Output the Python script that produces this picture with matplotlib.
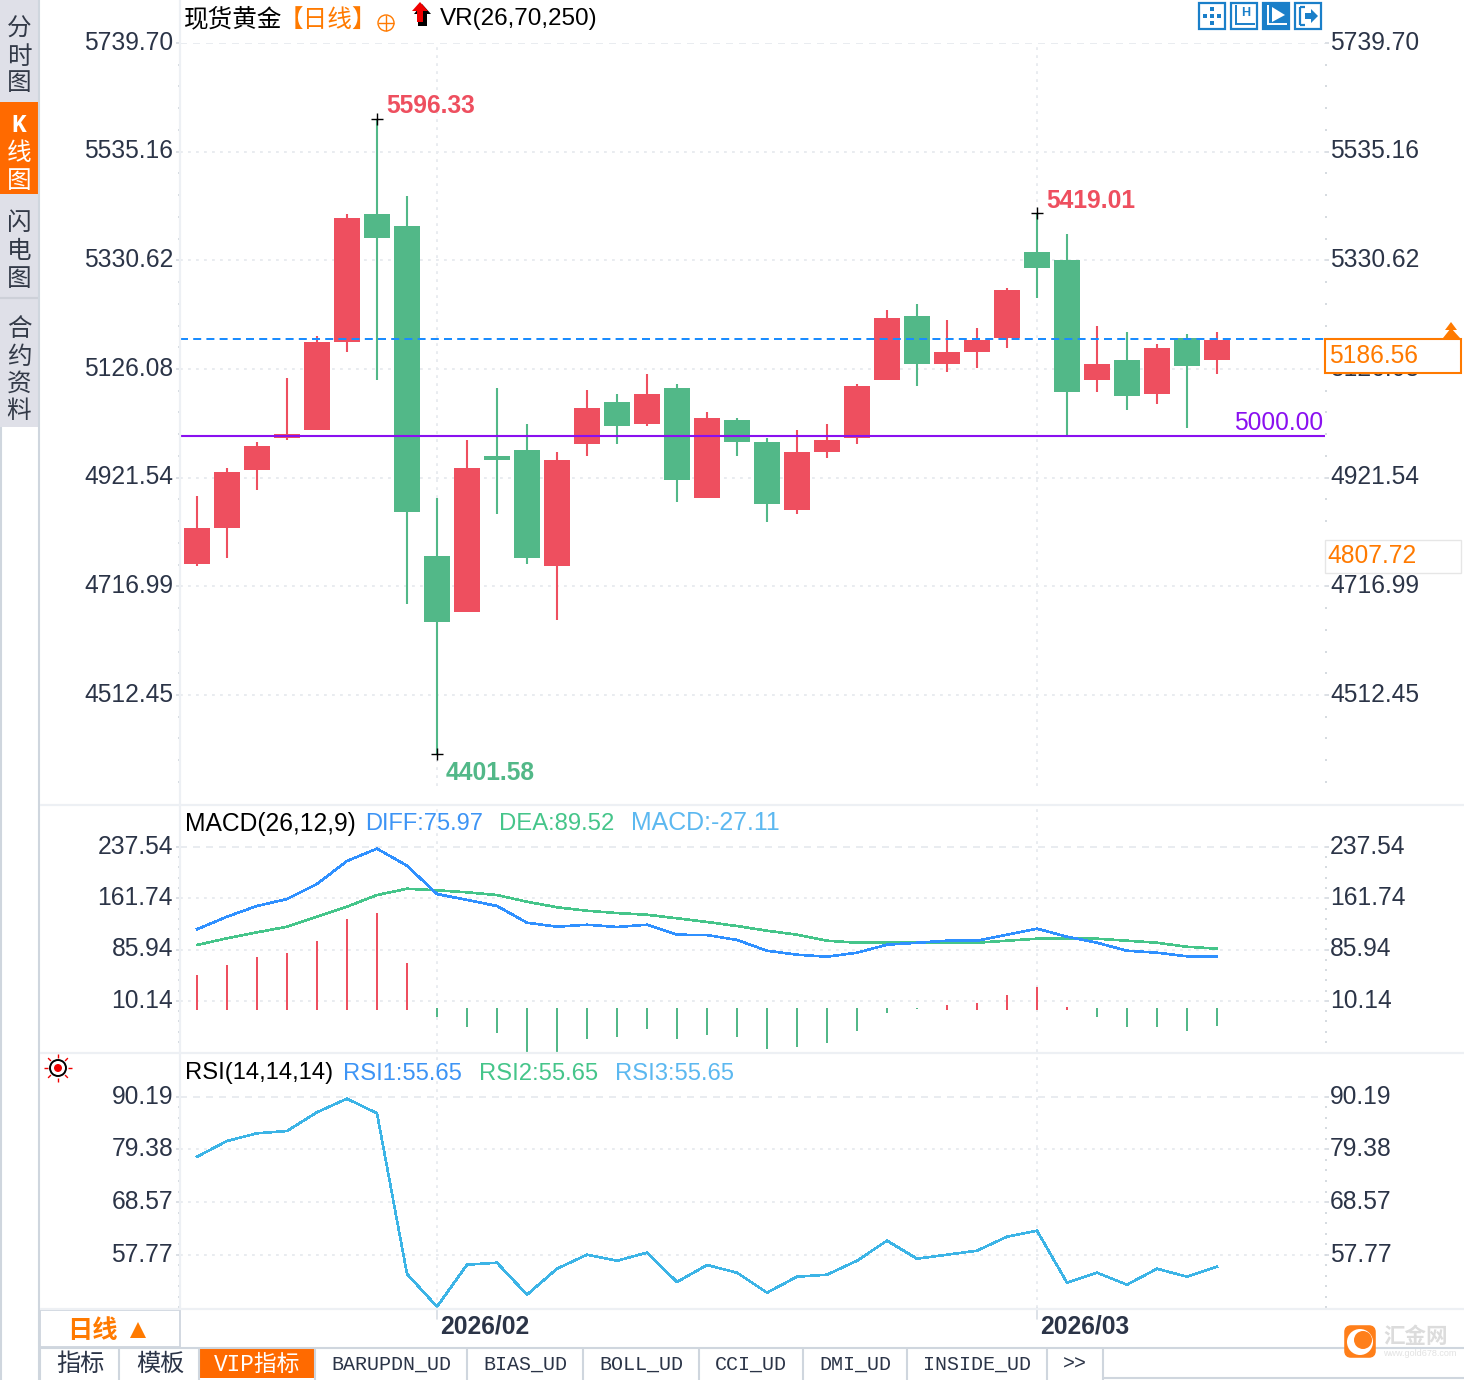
import numpy as np
import matplotlib
matplotlib.use('Agg')
import matplotlib.pyplot as plt
from matplotlib.patches import Rectangle, Polygon, Circle, FancyBboxPatch
from matplotlib.transforms import ScaledTranslation

plt.rcParams['font.family'] = ['Liberation Sans', 'Noto Sans CJK SC']

# ---- data ----
opens = [4759.0, 4826.8, 4936.0, 4996.2, 5011.3, 5176.9, 5417.9, 5395.2, 4774.1, 4668.7,
         4962.4, 4973.6, 4755.3, 4984.9, 5064.0, 5022.6, 5090.4, 4883.3, 5030.1, 4988.7,
         4860.7, 4969.9, 4996.2, 5105.4, 5225.8, 5135.5, 5158.1, 5184.5, 5346.3, 5331.2,
         5105.4, 5143.0, 5079.1, 5184.5, 5143.0]
closes = [4826.8, 4932.2, 4981.2, 5003.8, 5176.9, 5410.3, 5372.7, 4857.0, 4649.9, 4939.8,
          4954.8, 4770.3, 4954.8, 5052.7, 5018.8, 5079.1, 4917.2, 5033.9, 4988.7, 4872.0,
          4969.9, 4992.5, 5094.1, 5222.1, 5135.5, 5158.1, 5180.7, 5274.8, 5316.2, 5082.8,
          5135.5, 5075.3, 5165.6, 5131.7, 5180.7]
highs = [4887.1, 4939.8, 4988.7, 5109.2, 5188.2, 5417.9, 5596.33, 5451.7, 4883.3, 4992.5,
         5090.4, 5022.6, 4969.9, 5086.6, 5079.1, 5116.7, 5097.9, 5045.2, 5033.9, 4996.2,
         5011.3, 5022.6, 5097.9, 5237.1, 5248.4, 5218.3, 5203.3, 5278.6, 5419.01, 5380.2,
         5207.0, 5195.8, 5173.2, 5192.0, 5195.8]
lows = [4755.3, 4770.3, 4898.4, 4992.5, 5011.3, 5158.1, 5105.4, 4683.8, 4401.58, 4668.7,
        4853.2, 4759.0, 4653.7, 4962.4, 4984.9, 5018.8, 4875.8, 4883.3, 4962.4, 4838.1,
        4853.2, 4958.6, 4984.9, 5105.4, 5094.1, 5120.5, 5128.0, 5165.6, 5259.7, 5000.0,
        5082.8, 5048.9, 5060.2, 5015.1, 5116.7]

diff = [115.9, 134.5, 150.3, 160.6, 182.8, 216.8, 235.0, 209.8, 168.0, 159.2,
        150.3, 125.6, 119.7, 122.6, 119.3, 122.6, 107.9, 107.4, 100.1, 84.2,
        78.3, 75.4, 81.3, 93.1, 96.0, 99.0, 99.0, 107.9, 116.8, 104.9,
        96.0, 84.2, 81.3, 75.97, 75.97]
dea = [92.7, 102.6, 111.4, 119.7, 134.5, 149.3, 166.5, 175.8, 173.5, 170.5,
       166.5, 156.6, 148.4, 143.3, 139.9, 137.4, 132.1, 126.7, 120.7, 113.8,
       107.9, 99.0, 96.0, 96.0, 96.0, 96.0, 96.0, 99.0, 102.0, 102.0,
       102.0, 99.0, 96.0, 90.1, 87.2]
macd_hist = [48.0, 62.8, 74.6, 80.5, 98.3, 130.8, 139.6, 65.8, -14.0, -28.8,
             -37.7, -66.0, -66.0, -46.5, -43.6, -31.8, -46.5, -40.6, -43.6, -61.3,
             -58.4, -52.5, -34.7, -8.1, -2.2, 3.7, 6.6, 18.5, 30.3, 1.0,
             -14.0, -28.8, -28.8, -34.7, -27.11]
rsi = [77.88, 81.11, 82.69, 83.16, 87.0, 89.79, 86.79, 53.82, 47.11, 55.72,
       56.13, 49.57, 54.9, 57.78, 56.54, 58.19, 52.17, 55.66, 54.08, 49.98,
       53.26, 53.67, 56.54, 60.65, 56.96, 57.78, 58.6, 61.47, 62.7, 52.03,
       54.08, 51.62, 54.9, 53.26, 55.31]

price_ticks = [5739.70, 5535.16, 5330.62, 5126.08, 4921.54, 4716.99, 4512.45]
macd_ticks = [237.54, 161.74, 85.94, 10.14]
rsi_ticks = [90.19, 79.38, 68.57, 57.77]
month_idx = [8, 28]
month_labels = ['2026/02', '2026/03']
support_level = 5000.00
last_level = 5183.0

# ---- colours ----
RED = '#ee4f5f'
GREEN = '#52b888'
TEXT = '#2b3447'
GRID = '#e9ecf0'
ORANGE = '#ff7a00'
TAB_ORANGE = '#ff6a00'
BORDER = '#cfd6de'
LIGHT = '#edf0f4'
FS = 17.7

W, H = 1464, 1380
fig = plt.figure(figsize=(W / 100, H / 100), dpi=100, facecolor='white')
# tick labels sit a little above and left of their gridlines in the original
label_shift = ScaledTranslation(-1 / 100, 2.7 / 100, fig.dpi_scale_trans)


def px_axes(left, top, right, bottom):
    return fig.add_axes([left / W, 1 - bottom / H, (right - left) / W, (bottom - top) / H])


def setup_panel(ax, ticks):
    n = np.arange(len(opens))
    ax.set_xlim(-17 / 30, (1325 - 197) / 30)
    step = ticks[0] - ticks[1]
    ax.set_yticks(ticks, [f'{t:.2f}' for t in ticks])
    low, high = ax.get_ylim()
    minor = ticks[0] - np.arange(1, 60) * step / 5
    ax.set_yticks(minor[minor > low], minor=True)
    ax.set_ylim(low, high)
    ax.set_xticks(month_idx, [])
    ax.tick_params(axis='y', which='major', left=True, right=True, labelleft=True, labelright=True,
                   length=2.9, width=1.2, color='#d5dae0', labelsize=FS, labelcolor=TEXT, pad=1.4)
    ax.tick_params(axis='y', which='minor', left=True, right=True, length=1.4, width=1.4, color='#d5dae0')
    ax.tick_params(axis='x', length=0)
    for tick in ax.yaxis.get_major_ticks():
        tick.label1.set_transform(tick.label1.get_transform() + label_shift)
        tick.label2.set_transform(tick.label2.get_transform() + label_shift)
    ax.grid(True, which='major', color=GRID, linewidth=1.44, linestyle=(0, (1.4, 2.6)))
    ax.set_axisbelow(True)
    ax.get_ygridlines()[0].set_linestyle((0, (3.5, 3)))
    for s in ax.spines.values():
        s.set_visible(False)
    return n


# ---- price panel ----
ax = px_axes(180, 43, 1325, 786)
ax.set_ylim(5739.70 - (786 - 43) * 1.8822, 5739.70)
x = setup_panel(ax, price_ticks)
o, c = np.array(opens), np.array(closes)
colors = [RED if b > a else GREEN for a, b in zip(opens, closes)]
ax.vlines(x, lows, highs, colors=colors, linewidth=1.5, zorder=2)
ax.bar(x, np.abs(c - o), bottom=np.minimum(o, c), width=26 / 30, color=colors, zorder=3)
ax.axhline(support_level, color='#8a10f0', linewidth=1.5, zorder=4)
ax.axhline(last_level, color='#1a8cff', linewidth=1.44, linestyle=(0, (4, 2.6)), zorder=4)
ax.annotate('5000.00', xy=(1, support_level), xycoords=ax.get_yaxis_transform(), xytext=(-1.5, 0.7),
            textcoords='offset points', ha='right', va='bottom', color='#8a10f0', fontsize=FS)

hi_idx = [6, 28]
for i in hi_idx:
    ax.plot(i, highs[i], marker='+', color='black', markersize=9, mew=1, zorder=5)
    ax.annotate(f'{highs[i]:.2f}', xy=(i, highs[i]), xytext=(7, 0.6), textcoords='offset points',
                color=RED, fontsize=FS, fontweight='bold', ha='left', va='bottom')
ax.plot(8, lows[8], marker='+', color='black', markersize=9, mew=1, zorder=5)
ax.annotate(f'{lows[8]:.2f}', xy=(8, lows[8]), xytext=(6.5, -5), textcoords='offset points',
            color=GREEN, fontsize=FS, fontweight='bold', ha='left', va='top')

# ---- MACD panel ----
ax2 = px_axes(180, 806, 1325, 1052)
ax2.set_ylim(1489.0 - 1.4776 * 1052, 1489.0 - 1.4776 * 806)
setup_panel(ax2, macd_ticks)
hist_colors = [RED if v > 0 else GREEN for v in macd_hist]
hist_base = [-3 if v > 0 else 0 for v in macd_hist]
ax2.vlines(x, hist_base, macd_hist, colors=hist_colors, linewidth=1.44, zorder=2)
ax2.plot(x, dea, color='#45c58a', linewidth=1.15, antialiased=False, zorder=3)
ax2.plot(x, diff, color='#2f90ff', linewidth=1.15, antialiased=False, zorder=4)

# ---- RSI panel ----
ax3 = px_axes(180, 1054, 1325, 1308)
ax3.set_ylim(315.24 - 0.2052 * 1308, 315.24 - 0.2052 * 1054)
setup_panel(ax3, rsi_ticks)
ax3.plot(x, rsi, color='#3cb4e6', linewidth=1.15, antialiased=False, zorder=3)
for i, lab in zip(month_idx, month_labels):
    ax3.annotate('', xy=(i, 0), xycoords=ax3.get_xaxis_transform(), xytext=(0, -8), textcoords='offset points',
                 arrowprops=dict(arrowstyle='-', color=BORDER, lw=1, shrinkA=0, shrinkB=0))
    ax3.annotate(lab, xy=(i, 0), xycoords=ax3.get_xaxis_transform(), xytext=(2.5, -5), textcoords='offset points',
                 ha='left', va='top', color=TEXT, fontsize=FS, fontweight='bold', annotation_clip=False)

# ---- window furniture, in pixel coordinates ----
ui = fig.add_axes([0, 0, 1, 1], zorder=5)
ui.set_xlim(0, W)
ui.set_ylim(H, 0)
ui.axis('off')


def box(l, t, r, b, fc='white', ec='none', lw=0, z=2):
    ui.add_patch(Rectangle((l, t), r - l, b - t, facecolor=fc, edgecolor=ec, linewidth=lw, zorder=z))


def line(x0, y0, x1, y1, c=BORDER, lw=1.44, z=3):
    ui.plot([x0, x1], [y0, y1], color=c, linewidth=lw, solid_capstyle='butt', zorder=z)


def label(px, py, s, c=TEXT, fs=FS, ha='left', **kw):
    # va=center lands about 2.5px high for this font
    ui.text(px, py + 2.5, s, color=c, fontsize=fs, ha=ha, va='center', zorder=6, **kw)


# left navigation
box(0, 0, 38, 427, fc='#dfe0e8')
box(0, 102, 38, 194, fc=TAB_ORANGE)
line(0, 298, 38, 298, c='#cdd0d8', lw=1.6)
line(1, 427, 1, H, c=BORDER, lw=1.5)
line(39, 0, 39, H, c=BORDER, lw=1.5)
nav = [('分', 26), ('时', 54), ('图', 81), ('线', 151), ('图', 179), ('闪', 221), ('电', 249), ('图', 277),
       ('合', 327), ('约', 354), ('资', 381), ('料', 409)]
for ch, py in nav:
    label(19, py, ch, c='white' if 102 < py < 194 else '#333a48', ha='center')
label(19, 122, 'K', c='white', ha='center', family='Liberation Mono', fontweight='bold')

# panel separators
for py in (805, 1053, 1309):
    line(40, py, W, py, c=LIGHT, lw=1.6)
line(180, 0, 180, 1309, c=LIGHT, lw=1.6)

# headers
label(184, 17, '现货黄金', c='black')
label(279, 17, '【日线】', c=ORANGE)
ui.add_patch(Circle((386, 23), 8, fill=False, edgecolor=ORANGE, linewidth=1, zorder=6))
line(378, 23, 394, 23, c=ORANGE, lw=1, z=6)
line(386, 15, 386, 31, c=ORANGE, lw=1, z=6)
ui.add_patch(Polygon([(422, 4), (431, 14), (427, 14), (427, 26), (418, 26), (418, 14), (414, 14)], fc='black', zorder=6))
ui.add_patch(Polygon([(420, 2), (428, 11), (423, 11), (423, 22), (417, 22), (417, 11), (412, 11)], fc='#f00000', zorder=7))
label(440, 17, 'VR(26,70,250)', c='black', fs=17.5)

label(185, 821, 'MACD(26,12,9)', c='black')
label(365, 821, 'DIFF:75.97', c='#3d94f5', fs=17.0)
label(499, 821, 'DEA:89.52', c='#45c58a', fs=17.2)
label(631, 821, 'MACD:-27.11', c='#5cb8f0', fs=17.9)
label(185, 1071, 'RSI(14,14,14)', c='black', fs=17.1)
label(343, 1071, 'RSI1:55.65', c='#3d94f5', fs=17.1)
label(479, 1071, 'RSI2:55.65', c='#45c58a', fs=17.1)
label(615, 1071, 'RSI3:55.65', c='#5cb8f0', fs=17.1)

# toolbar icons
ICON = '#1a7fc9'
for k, (l, r) in enumerate([(1199, 1225), (1231, 1257), (1263, 1289), (1295, 1321)]):
    box(l, 3, r, 29, fc=ICON if k == 2 else 'white', ec=ICON, lw=1.6, z=6)
    g = 'white' if k == 2 else ICON
    if k == 0:
        for dx, dy in [(0, -7), (0, 7), (-7, 0), (7, 0), (0, 0)]:
            box(l + 11 + dx, 14 + dy, l + 15 + dx, 18 + dy, fc=g, z=7)
    elif k in (1, 2):
        line(l + 5, 5, l + 5, 24, c=g, lw=1.4, z=7)
        line(l + 4, 24, l + 24, 24, c=g, lw=1.4, z=7)
        if k == 1:
            label(l + 15, 11, 'H', c=g, fs=9, ha='center', fontweight='bold')
        else:
            ui.add_patch(Polygon([(l + 9, 7), (l + 22, 15), (l + 9, 22)], fc=g, zorder=7))
    else:
        line(l + 5, 7, l + 5, 25, c=g, lw=1.6, z=7)
        line(l + 5, 7, l + 10, 7, c=g, lw=1.6, z=7)
        line(l + 5, 25, l + 10, 25, c=g, lw=1.6, z=7)
        ui.add_patch(Polygon([(l + 10, 13), (l + 16, 13), (l + 16, 9), (l + 23, 16), (l + 16, 23), (l + 16, 19), (l + 10, 19)], fc=g, zorder=7))

# price tags on the right
box(1325, 339, 1461, 373, fc='white', ec=ORANGE, lw=1.5, z=4)
label(1329, 353.5, '5186.56', c=ORANGE)
box(1325, 540, 1461, 573, fc='white', ec='#e6e6e6', lw=1, z=4)
label(1327, 553.5, '4807.72', c=ORANGE)
ui.add_patch(Polygon([(1451, 322), (1457, 330), (1445, 330)], fc=ORANGE, zorder=6))
ui.add_patch(Polygon([(1451, 328), (1460, 338), (1443, 338)], fc=ORANGE, zorder=6))

# alert icon beside RSI
ui.add_patch(Circle((58, 1068), 8, fc='white', ec='black', linewidth=1.4, zorder=6))
ui.add_patch(Circle((58, 1068), 4, fc='#f00000', ec='none', zorder=7))
for a in np.deg2rad(np.arange(0, 360, 45)):
    line(58 + 10 * np.cos(a), 1068 + 10 * np.sin(a), 58 + 14 * np.cos(a), 1068 + 14 * np.sin(a), c='#f00000', lw=1, z=6)

# period selector
box(40, 1310, 180, 1347, fc='white', ec=BORDER, lw=1.3)
label(67, 1328, '日线', c=ORANGE, fs=18.2, fontweight='bold')
ui.add_patch(Polygon([(138, 1322), (146, 1338), (130, 1338)], fc=ORANGE, zorder=6))

# bottom tabs
line(40, 1348, W, 1348, c=BORDER, lw=1.5)
line(1103, 1378, W, 1378, c=BORDER, lw=1.5)
for px in (40, 119, 199, 315, 467, 583, 699, 803, 907, 1047, 1103):
    line(px, 1349, px, H, c=BORDER, lw=1.5)
box(200, 1349, 315, 1378, fc=TAB_ORANGE)
MONO = ['Liberation Mono', 'Noto Sans CJK SC']
tabs = [('指标', 80, TEXT, 17.4), ('模板', 160, TEXT, 17.4), ('VIP指标', 257, 'white', 16.4),
        ('BARUPDN_UD', 391, TEXT, 14.4), ('BIAS_UD', 525, TEXT, 14.4), ('BOLL_UD', 641, TEXT, 14.4),
        ('CCI_UD', 751, TEXT, 14.4), ('DMI_UD', 855, TEXT, 14.4), ('INSIDE_UD', 977, TEXT, 14.4),
        ('>>', 1075, TEXT, 14.4)]
for s, px, col, size in tabs:
    label(px, 1362, s, c=col, fs=size, ha='center', family=MONO)

# watermark
ui.add_patch(FancyBboxPatch((1347, 1328), 26, 27, boxstyle='round,pad=0,rounding_size=4', fc='#ff7f1a', ec='#ff7f1a', lw=4, zorder=6))
ui.add_patch(Circle((1360, 1342), 13, fc='white', zorder=7))
ui.add_patch(Circle((1363, 1340), 9, fc='#ff7f1a', zorder=8))
label(1383, 1335, '汇金网', c='#dcdcdc', fs=15.5, fontweight='bold')
label(1383, 1351, 'www.gold678.com', c='#e2e2e2', fs=6.5)

fig.savefig('out.png', dpi=100)
